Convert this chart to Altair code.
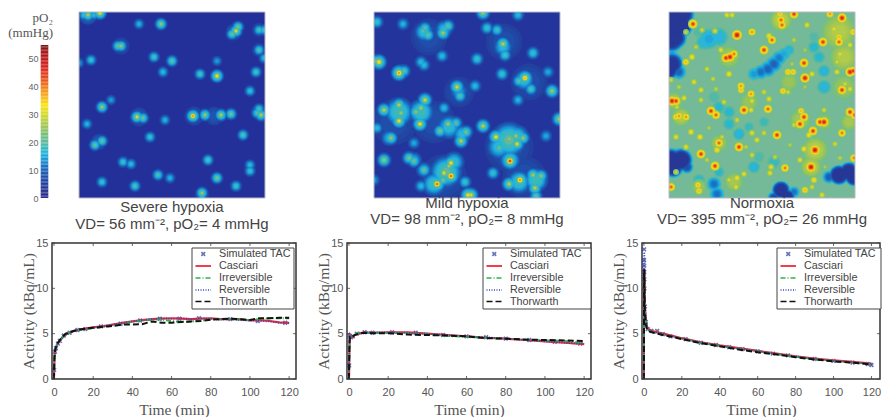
import math
import altair as alt
import pandas as pd

# ---------- colour map ----------
cb_dom = [0, 5, 10, 13, 16, 20, 25, 30, 33, 37, 42, 47, 52, 55]
cb_rng = ["#2a2a88", "#23409f", "#1f62b8", "#1f8fd2", "#2db4dc", "#66b89a", "#9cc35a", "#d8d82a",
          "#f7e61a", "#f5a81f", "#e8581f", "#d8201f", "#a81818", "#701818"]
cscale = alt.Scale(domain=cb_dom, range=cb_rng, clamp=True)

# ---------- vessel spots: x, y, peak pO2 (panel pixels) ----------
severe_spots = [(9,3,30),(5,3,20),(15,3,18),(21,1,38),(60,12,17),(82,12,28),(157,19,33),(153,22,24),(159,15,26),
(180,18,21),(185,18,20),(42,34,27),(39,34,24),(180,38,22),(185,46,18),(12,48,20),(75,45,21),(93,49,24),(138,49,15),
(0,51,15),(84,60,18),(121,62,21),(138,64,38),(177,60,21),(171,79,19),(32,88,15),(23,95,28),(180,97,21),(182,103,30),
(178,101,22),(58,105,33),(64,106,24),(114,104,42),(126,103,28),(142,103,30),(152,102,25),(8,112,17),(86,108,17),
(71,125,20),(164,123,22),(23,129,24),(16,133,24),(44,150,20),(52,152,18),(129,148,22),(79,163,22),(91,166,17),
(171,153,18),(171,159,20),(138,166,26),(23,170,20),(56,174,22),(157,174,21),(123,181,28),(123,184,18)]
severe_patches = [(9,3,13,12),(155,20,13,10),(180,100,14,10),(115,104,10,12),(135,104,9,12),(60,105,10,12),(20,130,11,10),
(42,34,9,11),(123,183,11,9),(180,18,9,9),(180,38,9,9)]
mild_spots = [(3,10,20),(29,12,17),(51,16,22),(49,19,22),(54,23,23),(74,14,23),(69,21,28),(109,1,28),(144,3,18),
(113,16,20),(123,18,20),(129,32,30),(131,43,21),(159,41,20),(68,44,18),(103,47,20),(5,50,38),(2,49,25),(47,50,18),
(50,53,18),(25,61,42),(30,59,22),(128,62,20),(174,60,16),(151,66,40),(145,69,22),(157,77,21),(178,79,28),(83,75,32),
(86,84,22),(101,74,18),(144,88,17),(10,98,30),(25,93,30),(27,101,27),(25,109,35),(51,88,32),(47,96,28),(42,100,26),
(46,112,35),(70,96,18),(74,112,28),(66,119,25),(82,111,22),(92,120,25),(87,129,30),(109,114,30),(3,116,18),(185,107,28),
(17,126,27),(172,124,16),(40,131,16),(122,125,35),(135,127,27),(142,124,28),(149,126,27),(143,132,33),(125,136,24),
(136,149,48),(10,148,28),(35,146,25),(40,149,24),(50,158,24),(77,151,35),(75,154,28),(70,161,33),(77,164,45),(63,172,45),
(69,168,25),(47,174,18),(119,161,20),(135,172,30),(146,168,42),(159,163,28),(167,164,26),(161,176,30),(91,170,20),
(94,183,35),(97,183,33),(162,184,22),(0,168,15)]
mild_patches = [(25,100,20,18),(47,100,20,16),(75,115,18,15),(88,122,17,12),(135,128,21,22),(125,135,18,15),(143,125,19,15),
(136,148,19,13),(72,160,21,20),(60,172,19,15),(80,150,18,13),(145,170,19,15),(162,168,20,15),(50,20,18,12),(70,17,17,11),
(129,35,17,12),(150,68,18,13),(85,80,15,11),(5,50,17,10),(27,60,16,10),(40,148,16,10),(50,158,16,10),(15,126,16,10),(95,183,18,10),
(20,110,8,30),(60,110,8,28),(135,135,8,32),(70,165,8,30),(150,165,8,28),(55,25,8,24),(130,30,8,24),(155,70,8,24),(85,80,8,20)]
normo_spots = [(24,12,45),(58,3,30),(68,23,50),(83,20,38),(46,19,28),(33,18,27),(17,20,26),(61,45,48),(57,46,46),(65,42,40),
(52,38,30),(23,45,32),(17,50,35),(27,35,26),(38,57,28),(60,62,32),(44,67,27),(25,70,30),(72,74,38),(72,78,35),(32,78,30),
(10,75,26),(47,77,26),(82,82,38),(3,89,48),(7,89,45),(15,86,30),(32,88,28),(2,68,28),(55,90,28),(83,89,30),(63,3,30),
(112,8,42),(113,13,42),(125,2,45),(103,28,42),(100,24,32),(95,38,45),(138,13,30),(173,6,48),(161,2,38),(165,17,30),(170,25,35),
(170,30,42),(154,30,45),(184,20,35),(181,33,30),(171,42,30),(135,51,45),(119,60,35),(124,60,35),(136,66,48),(181,60,48),
(184,59,45),(173,78,45),(114,79,35),(119,80,28),(95,80,28),(143,62,30),(111,2,35),(125,28,26),(136,38,24),(168,50,28),
(168,60,30),(176,72,28),(100,87,30),(123,52,25),(181,77,30),(136,75,24),(7,105,35),(10,104,38),(17,105,38),(42,99,45),
(47,103,42),(75,98,45),(22,120,32),(31,125,32),(7,125,30),(50,131,42),(48,138,33),(53,125,27),(70,135,45),(17,135,30),
(32,142,45),(46,154,45),(7,160,26),(2,175,42),(29,173,35),(30,179,35),(68,166,32),(75,162,30),(60,168,28),(67,175,30),
(88,128,30),(83,121,30),(83,143,28),(68,108,28),(82,98,30),(40,116,25),(38,148,26),(8,95,28),(77,135,26),(99,97,42),
(132,99,35),(135,105,45),(131,112,45),(125,113,28),(151,110,45),(155,110,48),(181,100,45),(186,103,45),(144,119,45),
(140,123,32),(108,123,45),(173,121,40),(166,132,28),(146,138,50),(135,137,32),(142,155,50),(131,148,30),(116,156,40),
(102,155,30),(95,121,28),(185,146,40),(145,168,33),(143,175,28),(136,178,35),(153,183,30),(106,145,26),(121,133,25),
(155,98,28),(171,146,26),(101,161,30),(156,155,24)]
# broad warm zones and low-oxygen patches of the normoxia map: x, y, extreme pO2, reach
normo_warm = [(170,20,28,22),(175,45,28,18),(175,75,26,16),(112,8,29,14),(60,45,27,14),(50,131,27,11),(146,138,29,16),(142,155,29,13),
(131,108,27,13),(155,110,26,11),(12,105,28,12),(65,170,27,12),(5,89,28,11),(80,90,26,12),(120,70,26,12),(30,175,26,10),(180,110,27,11)]
normo_lows = [(2,2,-6,19),(12,2,-6,16),(2,14,-6,19),(12,14,-6,14),(2,26,-6,17),(7,26,-3,13),(3,52,-2,14),(0,58,-2,12),(10,60,9,9),(3,42,13,7),
(40,27,14,13),(35,30,15,10),(50,25,15,12),(30,20,18,8),(85,62,13,8),(92,60,10,9),(99,57,9,10),(105,52,9,10),(110,46,11,9),(115,42,14,8),
(120,38,15,7),(145,35,16,8),(150,45,16,8),(155,59,15,8),(155,75,15,9),(145,25,18,7),(50,95,16,8),(60,100,16,8),(60,112,16,8),
(70,122,15,8),(45,85,18,8),(80,115,17,7),(95,110,17,7),(2,148,-6,14),(12,148,-6,14),(4,155,-3,13),(18,155,6,8),(30,168,16,8),
(45,172,10,9),(48,182,10,9),(50,160,16,7),(85,155,15,8),(90,145,18,8),(105,150,17,9),(112,178,-5,11),(118,185,-3,10),
(105,186,5,8),(125,180,10,7),(170,163,-6,12),(180,160,-6,12),(160,165,8,8),(185,165,-6,11)]

hyp_levels = [5,6,7,8,9,10,11,12,13,14,15,16,17,18,20,22,24,26,28,30,33,36,40,44,48]
nor_levels = [22,23,24,25,26,27,28,29,30,32,34,36,38,40,43,46,50]
low_levels = [20,19,18,17,16,15,14,13,12,11,10,9,8,7,6,5,4,3]

def spot_table(spots, levels, k):
    rows = []
    for L in levels:
        f = 1.0 if L <= 12 else max(0.55, 1 - 0.045 * (L - 12))
        for (x, y, p) in spots:
            if L < p:
                r = k * f * math.sqrt(math.log(p / L))
                rows.append({"x": x, "y": y, "L": L, "s": math.pi * r * r})
    return rows

def normo_spot_table(spots, levels, base, boost):
    rows = []
    for L in levels:
        for (x, y, p0) in spots:
            p = p0 + boost
            if L < p:
                r = (2.5 / (p - base) + 0.12) * (p - L)
                rows.append({"x": x, "y": y, "L": L, "s": math.pi * r * r})
    return rows

def patch_table(patches, levels, base):
    rows = []
    for L in levels:
        for (x, y, v, w) in patches:
            if (v < base and v < L < base) or (v > base and base < L < v):
                r = w * math.sqrt((L - v) / (base - v))
                rows.append({"x": x, "y": y, "L": L, "s": math.pi * r * r})
    return rows

def by_level(rows):
    return sorted(rows, key=lambda row: row["L"])

CELL, PH = 213, 186
HEAT_LEFT = 27
FONT = "Liberation Sans"
SERIF = "Liberation Serif"
one = alt.Data(values=[{}])

def heat_layer(rows, fill, lines, extra=()):
    xs = alt.X("x:Q", axis=None, scale=alt.Scale(domain=[-HEAT_LEFT, 186], nice=False))
    ys = alt.Y("y:Q", axis=None, scale=alt.Scale(domain=[186, 0], nice=False))
    bg = alt.Chart(one).mark_rect(fill=fill).encode(
        x=alt.value(HEAT_LEFT), x2=alt.value(CELL), y=alt.value(0), y2=alt.value(PH))
    spots = alt.Chart(pd.DataFrame(rows)).mark_circle(opacity=1, clip=True).encode(
        x=xs, y=ys, size=alt.Size("s:Q", scale=None, legend=None),
        color=alt.Color("L:Q", scale=cscale, legend=None))
    cover = alt.Chart(one).mark_rect(fill="white").encode(
        x=alt.value(0), x2=alt.value(HEAT_LEFT), y=alt.value(0), y2=alt.value(PH))
    border = alt.Chart(one).mark_rect(fill=None, stroke="#b8b8c4", strokeWidth=1).encode(
        x=alt.value(HEAT_LEFT), x2=alt.value(CELL), y=alt.value(0), y2=alt.value(PH))
    ch = alt.layer(bg, spots, cover, border, *extra)
    if extra:
        ch = ch.resolve_scale(y="independent")
    return ch.properties(width=CELL, height=PH, view=alt.ViewBackground(stroke=None),
        title=alt.TitleParams(lines, orient="bottom", font=FONT, fontSize=15, fontWeight="normal",
                              color="#444444", lineHeight=16.5, offset=-3, dx=HEAT_LEFT / 2))

# ---------- colour bar (sits left of the first map) ----------
cb_vals = [i * 0.5 for i in range(110)]
cb_df = pd.DataFrame({"v": cb_vals, "v2": [v + 0.5 for v in cb_vals]})
cb_y = alt.Scale(domain=[0, 55 * 186 / 153], nice=False)
cb_rect = alt.Chart(cb_df).mark_rect().encode(
    x=alt.value(-11.3), x2=alt.value(-3.7),
    y=alt.Y("v:Q", scale=cb_y, axis=alt.Axis(values=[0, 10, 20, 30, 40, 50], domain=False, ticks=False, grid=False,
            title=None, labelFont=FONT, labelFontSize=9, labelColor="#666666", labelPadding=0, offset=14)),
    y2="v2:Q",
    color=alt.Color("v:Q", scale=cscale, legend=None),
)
cb_t1 = alt.Chart(one).mark_text(text="pO₂", align="right", font=SERIF, fontSize=13, color="#555555").encode(
    x=alt.value(1), y=alt.value(6))
cb_t2 = alt.Chart(one).mark_text(text="(mmHg)", align="right", font=SERIF, fontSize=13, color="#555555").encode(
    x=alt.value(1), y=alt.value(21))

h1 = heat_layer(by_level(patch_table(severe_patches, hyp_levels, 4) + spot_table(severe_spots, hyp_levels, 6.0)), "#24309a",
                ["Severe hypoxia", "VD= 56 mm⁻², pO₂= 4 mmHg"], extra=(cb_rect, cb_t1, cb_t2))
h2 = heat_layer(by_level(patch_table(mild_patches, hyp_levels, 4) + spot_table(mild_spots, hyp_levels, 7.0)), "#23349c",
                ["Mild hypoxia", "VD= 98 mm⁻², pO₂= 8 mmHg"])
h3 = heat_layer(patch_table(normo_lows, low_levels, 21)
                + by_level(patch_table(normo_warm, nor_levels, 21) + normo_spot_table(normo_spots, nor_levels, 21, 5)), "#74ba98",
                ["Normoxia", "VD= 395 mm⁻², pO₂= 26 mmHg"])

# ---------- time activity curves ----------
t1 = [0,0.1,0.25,0.5,1,1.5,2,3,4,6,8,10,13,16,20,25,30,35,40,45,50,55,60,65,70,75,80,85,90,95,100,105,110,115,120]
cas1 = [0,1.2,2.2,3.0,3.4,3.7,3.95,4.2,4.5,4.9,5.1,5.3,5.45,5.55,5.7,5.8,6.0,6.2,6.35,6.5,6.6,6.65,6.7,6.65,6.6,6.65,6.7,6.6,6.6,6.6,6.45,6.5,6.4,6.25,6.2]
irr1 = [0,1.1,2.1,2.9,3.4,3.7,3.95,4.2,4.5,4.9,5.1,5.25,5.4,5.5,5.6,5.75,5.85,6.1,6.3,6.45,6.55,6.55,6.4,6.3,6.35,6.45,6.55,6.6,6.6,6.55,6.5,6.6,6.7,6.7,6.7]
rev1 = [0,1.2,2.2,3.0,3.4,3.7,3.95,4.2,4.5,4.9,5.1,5.3,5.45,5.55,5.7,5.85,6.0,6.2,6.35,6.5,6.6,6.7,6.65,6.7,6.6,6.7,6.65,6.55,6.6,6.5,6.45,6.4,6.35,6.2,6.15]
tho1 = [0,1.3,2.4,3.1,3.5,3.8,4.0,4.3,4.6,5.0,5.15,5.3,5.45,5.55,5.65,5.75,5.85,6.0,6.0,6.05,6.35,6.2,6.2,6.3,6.35,6.4,6.55,6.6,6.65,6.6,6.5,6.7,6.7,6.75,6.75]
sim1_t = [0.1,0.5,1,2,3,5,8,12,16,24,34,44,54,64,74,90,104,118]
sim1_v = [1.0,3.0,3.4,3.9,4.2,4.8,5.1,5.4,5.5,5.8,6.1,6.45,6.65,6.65,6.7,6.6,6.4,6.2]

t2 = [0,0.1,0.2,0.3,0.5,1,2,3,5,8,12,20,30,40,50,60,70,80,90,100,110,120]
cas2 = [0,1.5,3.0,4.0,4.8,4.6,4.65,4.85,5.0,5.15,5.1,5.15,5.15,5.0,4.85,4.7,4.55,4.45,4.3,4.15,4.0,3.85]
irr2 = [0,1.2,2.8,3.9,4.7,4.6,4.7,5.0,5.1,5.1,5.1,5.1,5.05,4.95,4.75,4.65,4.55,4.45,4.35,4.25,4.2,3.95]
rev2 = [0,1.5,3.0,4.0,4.8,4.6,4.7,4.9,5.0,5.15,5.15,5.15,5.1,5.0,4.85,4.7,4.6,4.45,4.3,4.15,4.0,3.85]
tho2 = [0,1.6,3.2,4.2,4.6,4.55,4.7,4.85,5.0,5.1,5.05,5.05,4.9,4.85,4.8,4.7,4.5,4.45,4.35,4.3,4.25,4.2]
sim2_t = [0.1,0.3,1,2,4,8,12,22,34,48,60,70,80,92,105,118]
sim2_v = [1.5,4.8,4.6,4.7,5.0,5.15,5.1,5.15,5.1,4.85,4.7,4.6,4.45,4.3,4.1,3.9]

t3 = [0,0.05,0.1,0.2,0.3,0.5,1,1.5,2,3,5,10,15,20,30,40,50,60,70,80,90,100,110,120]
cas3 = [0,9,12,12,11,8,6.6,5.9,5.6,5.4,5.25,5.0,4.75,4.5,4.05,3.7,3.4,3.1,2.8,2.5,2.25,2.05,1.9,1.7]
irr3 = [0,3,10,11.5,10.5,7.5,6.4,5.8,5.5,5.3,5.15,4.9,4.65,4.45,4.0,3.65,3.35,3.05,2.75,2.45,2.2,2.0,1.8,1.65]
rev3 = [0,6,13,14,12,8.5,6.8,6.0,5.6,5.35,5.2,5.0,4.7,4.45,4.05,3.65,3.35,3.1,2.75,2.5,2.2,2.0,1.85,1.65]
tho3 = [0,5,12,12,10,7.5,6.0,5.6,5.4,5.25,5.1,4.85,4.65,4.4,3.95,3.6,3.25,2.95,2.7,2.4,2.15,1.95,1.8,1.6]
sim3_t = [0.1,0.1,0.15,0.2,0.25,0.3,0.5,1,2,4,7,10,14,22,30,38,45,52,60,68,76,90,100,110,118,120]
sim3_v = [14.3,13.1,12.5,11.8,11,10,8,6.3,5.5,5.3,5.3,4.95,4.7,4.4,4.0,3.75,3.5,3.3,3.05,2.8,2.6,2.2,2.0,1.8,1.65,1.55]

x_ticks = [0, 20, 40, 60, 80, 100, 120]
y_ticks = [0, 5, 10, 15]
legend_names = ["Simulated TAC", "Casciari", "Irreversible", "Reversible", "Thorwarth"]
legend_rows = [11, 23, 35, 47, 58.5]
LH = 136
y_scale = alt.Scale(domain=[0, 15], nice=False)

X_PATH = "M-1,-1L1,1M1,-1L-1,1"
def panel(t, cas, irr, rev, tho, st, sv, box_left, box_right, LW, x_max):
    x_scale = alt.Scale(domain=[-1, x_max], nice=False)
    def curve(t_, v_, color, width, dash=None):
        kw = {"strokeDash": dash} if dash else {}
        return alt.Chart(pd.DataFrame({"t": t_, "v": v_})).mark_line(color=color, strokeWidth=width, **kw).encode(
            x=alt.X("t:Q", scale=x_scale), y=alt.Y("v:Q", scale=y_scale))
    sim = alt.Chart(pd.DataFrame({"t": st, "v": sv})).mark_point(shape=X_PATH, size=14, color="#28379a", strokeWidth=1.6).encode(
        x=alt.X("t:Q", scale=x_scale, axis=alt.Axis(values=x_ticks, tickCount=8, grid=False, domain=False, ticks=False, title="Time (min)",
                labelFont=FONT, labelFontSize=11, labelColor="#555555", labelPadding=7, labelOverlap=False,
                titleFont=SERIF, titleFontSize=15.5, titleFontWeight="normal", titleColor="#555555", titlePadding=5)),
        y=alt.Y("v:Q", scale=y_scale, axis=alt.Axis(values=y_ticks, grid=False, domain=False, ticks=False, title="Activity (kBq/mL)",
                labelFont=FONT, labelFontSize=11, labelColor="#555555", labelPadding=4, labelOverlap=False,
                titleFont=SERIF, titleFontSize=15.5, titleFontWeight="normal", titleColor="#555555", titlePadding=-1)))
    layers = [sim,
              curve(t, cas, "#ee2b36", 2.2),
              curve(t, irr, "#2fb24a", 2.0, [5, 2, 1, 2]),
              curve(t, rev, "#3a44c0", 1.8, [1, 1.5]),
              curve(t, tho, "#111111", 2.0, [6, 3])]
    xt = pd.DataFrame({"t": x_ticks})
    yt = pd.DataFrame({"v": y_ticks})
    for a, b in [(LH - 3, LH), (0, 3)]:
        layers.append(alt.Chart(xt).mark_rule(color="#444444", strokeWidth=0.8).encode(
            x=alt.X("t:Q", scale=x_scale), y=alt.value(a), y2=alt.value(b)))
    for a, b in [(0, 3), (LW - 3, LW)]:
        layers.append(alt.Chart(yt).mark_rule(color="#444444", strokeWidth=0.8).encode(
            y=alt.Y("v:Q", scale=y_scale), x=alt.value(a), x2=alt.value(b)))
    # legend box
    layers.append(alt.Chart(one).mark_rect(fill="white", stroke="#444444", strokeWidth=1).encode(
        x=alt.value(box_left), x2=alt.value(box_right), y=alt.value(5), y2=alt.value(66)))
    sx0, sx1, tx = box_left + 3.5, box_left + 19, box_left + 27
    styles = [None, ("#ee2b36", 1.8, None), ("#2fb24a", 1.6, [5, 2, 1, 2]), ("#3a44c0", 1.5, [1, 1.5]), ("#111111", 1.7, [6, 3])]
    for name, ry, st_ in zip(legend_names, legend_rows, styles):
        if st_ is None:
            layers.append(alt.Chart(one).mark_point(shape=X_PATH, size=14, color="#28379a", strokeWidth=1.6).encode(
                x=alt.value((sx0 + sx1) / 2), y=alt.value(ry)))
        else:
            kw = {"strokeDash": st_[2]} if st_[2] else {}
            layers.append(alt.Chart(one).mark_rule(color=st_[0], strokeWidth=st_[1], **kw).encode(
                x=alt.value(sx0), x2=alt.value(sx1), y=alt.value(ry)))
        layers.append(alt.Chart(one).mark_text(text=name, align="left", baseline="middle", font=FONT, fontSize=10.8, color="#444444").encode(
            x=alt.value(tx), y=alt.value(ry)))
    return alt.layer(*layers).properties(width=LW, height=LH,
        view=alt.ViewBackground(fill="white", stroke="#333333", strokeWidth=1.5))

l1 = panel(t1, cas1, irr1, rev1, tho1, sim1_t, sim1_v, 140, 242, 244, 123.5)
l2 = panel(t2, cas2, irr2, rev2, tho2, sim2_t, sim2_v, 136, 244, 244, 123.5)
l3 = panel(t3, cas3, irr3, rev3, tho3, sim3_t, sim3_v, 135, 239, 238, 124.5)

chart = alt.concat(h1, h2, h3, l1, l2, l3, columns=3, bounds="flush",
                   spacing=alt.RowColnumber(column=51, row=45)).properties(
    padding={"left": 0, "top": 3, "right": 0, "bottom": 0}, background="white")

chart.save("out.html", embed_options={"renderer": "svg", "actions": False})
